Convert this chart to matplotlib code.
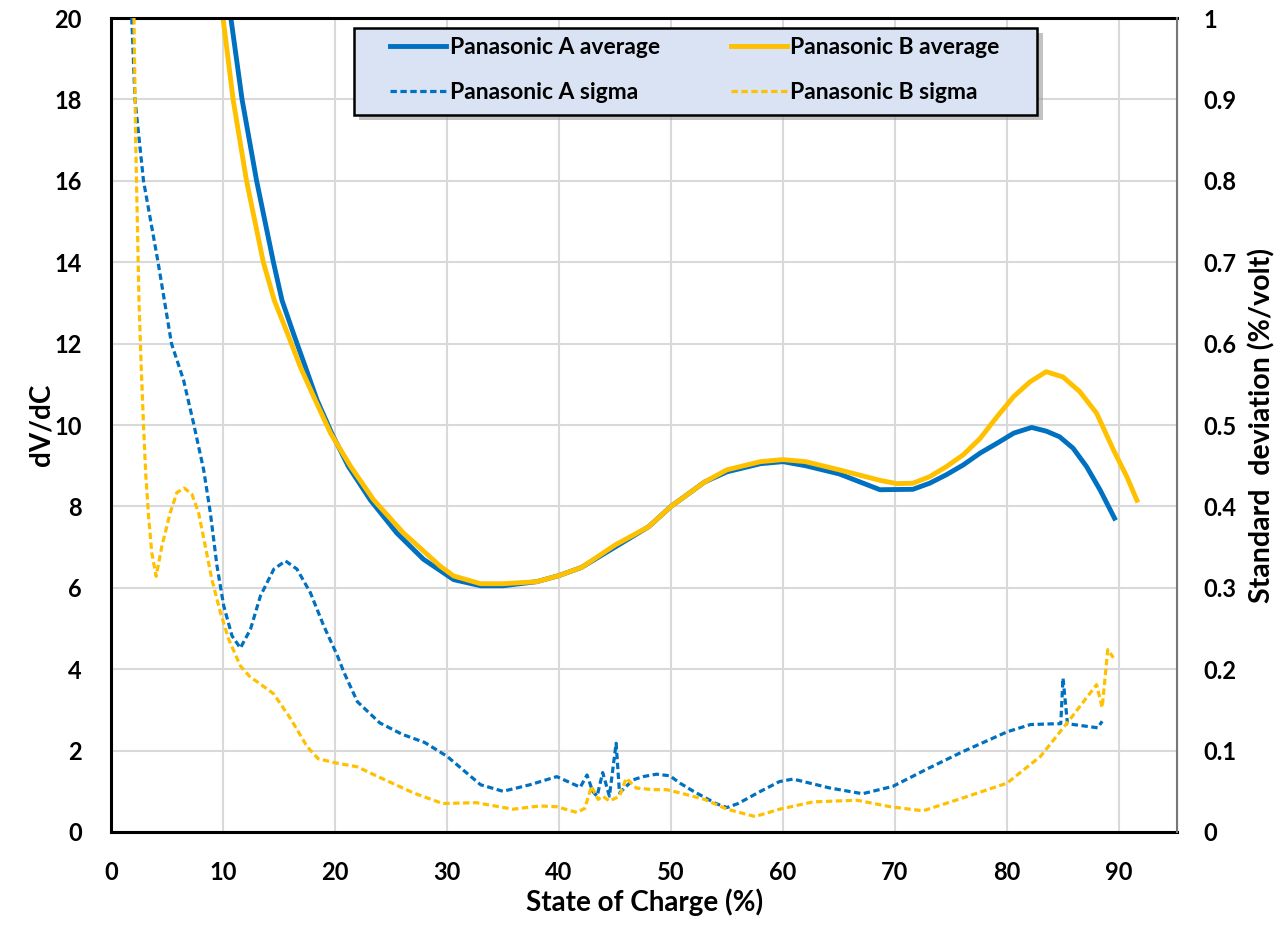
import numpy as np
import matplotlib.pyplot as plt
from matplotlib.patches import Rectangle

plt.rcParams['font.family'] = ['Lato', 'DejaVu Sans']
plt.rcParams['font.weight'] = 'bold'

# Panasonic A average (dV/dC)
a_avg_x = [10.7, 11.7, 13.0, 14.5, 15.27, 16.3, 17.35, 18.4, 19.7, 21.2, 23.15, 25.5, 27.9, 30.6, 33, 35,
           38, 40, 42, 45, 48, 50, 53, 55, 58, 60, 62, 65, 68.66, 71.6, 73.1, 74.6, 76.1, 77.6, 79.1,
           80.6, 82.2, 83.5, 84.7, 85.9, 87.1, 88.3, 89.6]
a_avg_y = [20, 18, 16, 14, 13.06, 12.24, 11.43, 10.61, 9.8, 8.98, 8.16, 7.35, 6.7, 6.2, 6.05, 6.05,
           6.15, 6.3, 6.5, 7.0, 7.5, 8.0, 8.6, 8.85, 9.05, 9.1, 9.0, 8.8, 8.41, 8.42, 8.57, 8.78, 9.02,
           9.31, 9.55, 9.8, 9.94, 9.85, 9.71, 9.43, 8.98, 8.41, 7.71]

# Panasonic B average (dV/dC)
b_avg_x = [10.0, 10.9, 12.1, 13.6, 14.58, 15.77, 16.9, 18.24, 19.6, 21.4, 23.45, 26.1, 29.4, 30.6, 33,
           35, 38, 40, 42, 45, 48, 50, 53, 55, 58, 60, 62, 65, 68.66, 70.15, 71.6, 73.1, 74.6, 76.1,
           77.6, 79.1, 80.6, 82.05, 83.5, 85.0, 86.5, 88.0, 89.5, 90.7, 91.6]
b_avg_y = [20, 18, 16, 14, 13.06, 12.24, 11.43, 10.61, 9.8, 8.98, 8.16, 7.35, 6.53, 6.29, 6.1, 6.1,
           6.15, 6.3, 6.5, 7.05, 7.5, 8.0, 8.6, 8.9, 9.1, 9.15, 9.1, 8.9, 8.64, 8.56, 8.57, 8.73, 8.98,
           9.27, 9.67, 10.2, 10.7, 11.06, 11.31, 11.18, 10.82, 10.29, 9.39, 8.73, 8.15]

# Panasonic A sigma (%/volt)
a_sig_x = [1.85, 2.14, 2.9, 4.2, 5.4, 6.48, 7.37, 8.27, 8.87, 9.46, 10.06, 10.8, 11.55, 12.45, 13.34,
           14.54, 15.58, 16.6, 17.8, 19.0, 20.2, 20.8, 22, 24, 26, 28, 30, 33, 35, 37.4, 39.8, 41.9,
           42.5, 43.0, 43.4, 43.9, 44.5, 45.1, 45.4, 46.6, 47.5, 48.7, 49.9, 50.8, 52, 54, 55, 56, 58,
           59.7, 60.9, 64.2, 67.1, 69.8, 73.1, 76.1, 80.0, 82.1, 84.4, 84.8, 85.0, 85.4, 88.1, 88.5]
a_sig_y = [1.0, 0.9, 0.8, 0.7, 0.6, 0.555, 0.502, 0.445, 0.392, 0.327, 0.278, 0.241, 0.226, 0.249,
           0.29, 0.323, 0.333, 0.323, 0.294, 0.253, 0.217, 0.196, 0.16, 0.134, 0.12, 0.11, 0.093,
           0.058, 0.05, 0.058, 0.068, 0.055, 0.07, 0.05, 0.044, 0.073, 0.044, 0.109, 0.048, 0.064,
           0.068, 0.071, 0.069, 0.06, 0.05, 0.035, 0.03, 0.035, 0.05, 0.062, 0.065, 0.054, 0.047,
           0.056, 0.079, 0.099, 0.123, 0.132, 0.133, 0.133, 0.189, 0.133, 0.128, 0.136]

# Panasonic B sigma (%/volt)
b_sig_x = [2.05, 2.2, 2.35, 2.5, 2.7, 2.9, 3.1, 3.34, 3.64, 4.03, 4.54, 5.28, 5.88, 6.54, 7.22, 7.82,
           8.42, 9.01, 9.76, 10.5, 11.55, 12.45, 13.0, 14.5, 16.0, 17.5, 18.5, 20, 22, 24, 27.0, 29.6,
           32.6, 35.9, 38.3, 39.8, 41.6, 42.3, 42.9, 43.5, 43.9, 44.5, 45.4, 46.0, 46.9, 48.4, 49.6,
           50.8, 53, 55, 57.5, 59.7, 62.7, 66.6, 69.6, 72.5, 76.1, 80.0, 83.0, 85.6, 88.0, 88.5, 89.0,
           89.5]
b_sig_y = [1.0, 0.85, 0.75, 0.65, 0.57, 0.5, 0.44, 0.39, 0.343, 0.314, 0.351, 0.392, 0.417, 0.4225,
           0.415, 0.392, 0.351, 0.31, 0.27, 0.237, 0.204, 0.19, 0.185, 0.17, 0.14, 0.105, 0.09, 0.085,
           0.08, 0.067, 0.048, 0.035, 0.036, 0.028, 0.032, 0.031, 0.024, 0.029, 0.056, 0.04, 0.044,
           0.038, 0.044, 0.066, 0.054, 0.052, 0.052, 0.048, 0.04, 0.028, 0.019, 0.028, 0.037, 0.039,
           0.031, 0.026, 0.042, 0.06, 0.093, 0.138, 0.181, 0.153, 0.224, 0.214]

blue = '#0070C0'
gold = '#FFC000'

fig = plt.figure(figsize=(12.88, 9.3), dpi=100)
ax = fig.add_axes([0.0862, 0.1054, 0.8278, 0.8752])
ax2 = ax.twinx()

l1, = ax.plot(a_avg_x, a_avg_y, color=blue, lw=3.5, solid_joinstyle='round', label='Panasonic A average')
l2, = ax.plot(b_avg_x, b_avg_y, color=gold, lw=3.5, solid_joinstyle='round', label='Panasonic B average')
l3, = ax2.plot(a_sig_x, a_sig_y, color=blue, lw=2.3, ls=(0, (2.0, 1.1)), label='Panasonic A sigma')
l4, = ax2.plot(b_sig_x, b_sig_y, color=gold, lw=2.3, ls=(0, (2.0, 1.1)), label='Panasonic B sigma')

ax.set_xlim(0, 95.2)
ax.set_ylim(0, 20)
ax2.set_ylim(0, 1)
ax.set_xticks(np.arange(0, 91, 10))
ax.set_yticks(np.arange(0, 21, 2))
ax2.set_yticks(np.arange(0, 1.01, 0.1))
ax2.set_yticklabels(['0'] + ['%.1f' % v for v in np.arange(0.1, 0.95, 0.1)] + ['1'])

ax.grid(True, color='#d9d9d9', lw=1.5)
ax.set_axisbelow(True)
ax2.tick_params(axis='y', length=0, labelsize=17, pad=19)
ax.tick_params(axis='y', length=0, labelsize=17, pad=21)
ax.tick_params(axis='x', length=0, labelsize=17, pad=21)

for side in ['left', 'bottom', 'top']:
    ax.spines[side].set_linewidth(2.2)
    ax.spines[side].set_color('black')
ax.spines['right'].set_color('#777777')
ax2.spines['right'].set_color('#777777')
ax2.spines['right'].set_linewidth(1.5)
ax2.spines['left'].set_visible(False)
ax2.spines['top'].set_visible(False)
ax2.spines['bottom'].set_visible(False)

ax.set_xlabel('State of Charge (%)', fontsize=20, fontweight='bold', labelpad=3)
ax.set_ylabel('dV/dC', fontsize=20, fontweight='bold', labelpad=0)
ax2.set_ylabel('Standard  deviation (%/volt)', fontsize=20.5, fontweight='bold', labelpad=8)

# legend box with shadow
ax2.add_patch(Rectangle((0.233, 0.875), 0.6407, 0.1067, transform=ax2.transAxes,
                        facecolor='#9a9a9a', edgecolor='none', alpha=0.6, zorder=4, clip_on=False))
ax2.add_patch(Rectangle((0.228, 0.8808), 0.6407, 0.1069, transform=ax2.transAxes,
                        facecolor='#DAE3F3', edgecolor='black', lw=1.8, zorder=4, clip_on=False))
leg = ax2.legend([l1, l3, l2, l4], [h.get_label() for h in [l1, l3, l2, l4]],
                 ncol=2, loc='upper left', bbox_to_anchor=(0.2617, 0.9770),
                 fontsize=16.5, frameon=False, borderpad=0, borderaxespad=0,
                 handlelength=2.45, handletextpad=0.15, columnspacing=3.1, labelspacing=1.05)
leg.set_zorder(5)

fig.savefig('out.png', dpi=100)
